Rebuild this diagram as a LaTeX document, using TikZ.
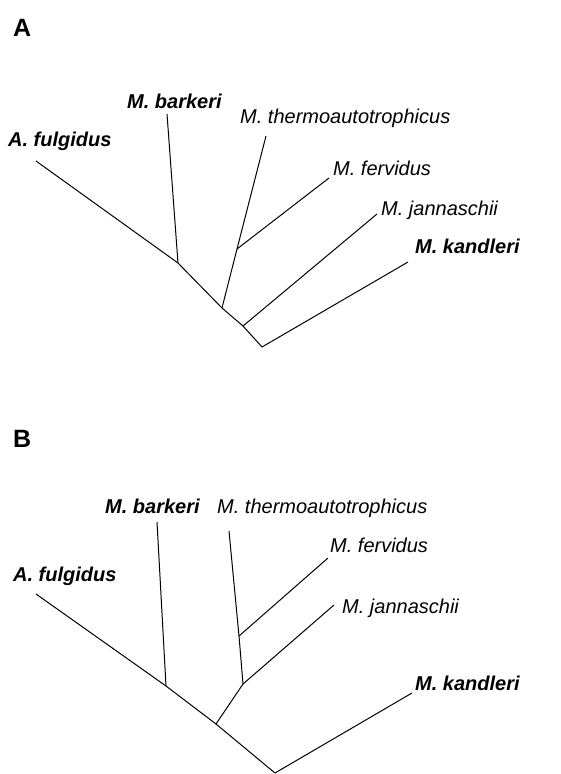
\documentclass[tikz,border=0pt]{standalone}
\usepackage{fontspec}
\setmainfont{Liberation Sans}
\tikzset{
  taxon/.style={anchor=base west, inner sep=0pt, font=\fontsize{20}{24}\selectfont\itshape},
  btaxon/.style={taxon, font=\fontsize{20}{24}\selectfont\bfseries\itshape},
  panel/.style={anchor=base west, inner sep=0pt, font=\fontsize{25}{30}\selectfont\bfseries},
  branch/.style={line width=1pt}
}
\begin{document}
\begin{tikzpicture}[x=1pt,y=-1pt]
        \useasboundingbox (0,0) rectangle (560,774);

        % panel A
        \node[panel] (pa) at (13,36) {A};
        \node[btaxon] (afu) at (8,146) {A. fulgidus};
        \node[btaxon] (aba) at (127,108) {M. barkeri};
        \node[taxon] (ath) at (240,123) {M. thermoautotrophicus};
        \node[taxon] (afe) at (333,175) {M. fervidus};
        \node[taxon] (aja) at (381,215) {M. jannaschii};
        \node[btaxon] (aka) at (415,253) {M. kandleri};

        \coordinate (aroot) at (262,347);
        \coordinate (a1) at (243,326);
        \coordinate (a2) at (222,308);
        \coordinate (a3) at (178,263);
        \coordinate (a4) at (237,249);
        \coordinate (tfu) at (36,161);
        \coordinate (tba) at (167,114);
        \coordinate (tth) at (266,136);
        \coordinate (tfe) at (329,178);
        \coordinate (tja) at (377,214);
        \coordinate (tka) at (408,262);

        \draw[branch] (aroot) -- (a1);
        \draw[branch] (a1) -- (a2);
        \draw[branch] (a2) -- (a3);
        \draw[branch] (a3) -- (tfu);
        \draw[branch] (a3) -- (tba);
        \draw[branch] (a2) -- (a4);
        \draw[branch] (a4) -- (tth);
        \draw[branch] (a4) -- (tfe);
        \draw[branch] (a1) -- (tja);
        \draw[branch] (aroot) -- (tka);

        % panel B
        \node[panel] (pb) at (13,447) {B};
        \node[btaxon] (bba) at (105,513) {M. barkeri};
        \node[taxon] (bth) at (217,513) {M. thermoautotrophicus};
        \node[taxon] (bfe) at (330,552) {M. fervidus};
        \node[btaxon] (bfu) at (13,581) {A. fulgidus};
        \node[taxon] (bja) at (342,613) {M. jannaschii};
        \node[btaxon] (bka) at (415,690) {M. kandleri};

        \coordinate (broot) at (275,773);
        \coordinate (b1) at (216,724);
        \coordinate (b2) at (166,686);
        \coordinate (b3) at (243,684);
        \coordinate (b4) at (239,636);
        \coordinate (ufu) at (36,594);
        \coordinate (uba) at (157,522);
        \coordinate (uth) at (229,531);
        \coordinate (ufe) at (328,558);
        \coordinate (uja) at (334,605);
        \coordinate (uka) at (412,693);

        \draw[branch] (broot) -- (b1);
        \draw[branch] (b1) -- (b2);
        \draw[branch] (b2) -- (ufu);
        \draw[branch] (b2) -- (uba);
        \draw[branch] (b1) -- (b3);
        \draw[branch] (b3) -- (b4);
        \draw[branch] (b4) -- (uth);
        \draw[branch] (b4) -- (ufe);
        \draw[branch] (b3) -- (uja);
        \draw[branch] (broot) -- (uka);
\end{tikzpicture}
\end{document}
